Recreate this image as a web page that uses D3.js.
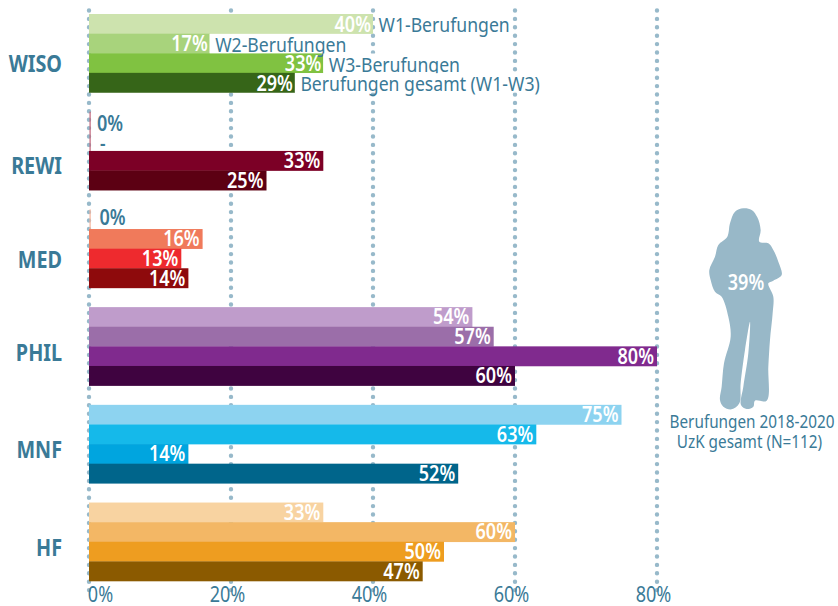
<!DOCTYPE html>
<html>
<head>
<meta charset="utf-8">
<script src="https://cdn.jsdelivr.net/npm/d3@7"></script>
<style>
  body { margin: 0; background: #fff; }
  svg { display: block; }
  text { font-family: "Noto Sans", sans-serif; }
</style>
</head>
<body>
<div id="chart"></div>
<script>
const faculties = ["WISO", "REWI", "MED", "PHIL", "MNF", "HF"];
const groups = ["W1", "W2", "W3", "gesamt"];
const wiso = [40, 17, 33, 29];
const rewi = [0, null, 33, 25];
const med = [0, 16, 13, 14];
const phil = [54, 57, 80, 60];
const mnf = [75, 63, 14, 52];
const hf = [33, 60, 50, 47];
const rows = [wiso, rewi, med, phil, mnf, hf];
const colors = [
  ["#cde3ae", "#a8d37c", "#80c241", "#366518"],
  ["#c0647a", "#c0647a", "#7c0026", "#5c0013"],
  ["#f6b49c", "#f07a5b", "#ee2a2e", "#8e0a0c"],
  ["#bf9ccb", "#9b6ea9", "#802a8e", "#3f0340"],
  ["#8dd3f0", "#15b9ea", "#00a5df", "#00658b"],
  ["#f8d3a1", "#f3b765", "#ee9d20", "#8b5a00"]
];
const legendLabels = ["W1-Berufungen", "W2-Berufungen", "W3-Berufungen", "Berufungen gesamt (W1-W3)"];
const ticks = [0, 20, 40, 60, 80];
const total = 39;
const totalLabel = ["Berufungen 2018-2020", "UzK gesamt (N=112)"];
// the faculty names do not sit on the middle of their bars in the original
const nameShift = [10, 15, 11, 6, 5, 6];

const width = 838, height = 606;
const teal = "#3a7a97";
const narrow = 0.86;

const svg = d3.select("#chart").append("svg")
  .attr("width", width)
  .attr("height", height);

const x = d3.scaleLinear().domain([0, 80]).range([89, 657]);
const y = d3.scaleBand().domain(faculties).range([14, 581]).paddingInner(0.197);
const yInner = d3.scaleBand().domain(groups).range([0, y.bandwidth()]);

// narrowed text, the original face is a condensed one
function label(sel, tx, ty, str, size, fill, anchor, weight) {
  return sel.append("text")
    .attr("transform", `translate(${tx},${ty}) scale(${narrow},1)`)
    .attr("text-anchor", anchor || "start")
    .attr("font-size", size)
    .attr("font-weight", weight || 400)
    .attr("fill", fill)
    .text(str);
}

// dotted grid
svg.append("g").selectAll("line").data(ticks).join("line")
  .attr("x1", d => x(d))
  .attr("x2", d => x(d))
  .attr("y1", 10.5)
  .attr("y2", 592)
  .attr("stroke", "#97b9ca")
  .attr("stroke-width", 4.4)
  .attr("stroke-linecap", "round")
  .attr("stroke-dasharray", "0 8.4");

// bars
faculties.forEach((f, i) => {
  const g = svg.append("g").attr("transform", `translate(0,${y(f)})`);
  rows[i].forEach((v, j) => {
    const top = yInner(groups[j]);
    const h = yInner.bandwidth();
    const base = top + h / 2 + 7.5;
    if (v === null) {
      g.append("rect").attr("x", x(0) + 0.5).attr("y", top).attr("width", 1.2).attr("height", h).attr("fill", colors[i][j]);
      label(g, x(0) + 11, base + 1, "-", 20, teal, "start", 600);
      return;
    }
    g.append("rect")
      .attr("x", v === 0 ? x(0) + 0.5 : x(0))
      .attr("y", top)
      .attr("width", v === 0 ? 1.2 : x(v) - x(0))
      .attr("height", h + 0.3)
      .attr("fill", colors[i][j]);
    if (v === 0) {
      label(g, x(0) + (i === 1 ? 8 : 10.5), base + (i === 1 ? 2 : -2), "0%", 21, teal, "start", 600);
    } else if (i > 0) {
      label(g, x(v) - 3, base, `${v}%`, 21, "#fff", "end", 600);
    }
  });
  label(svg, 62, y(f) + y.bandwidth() / 2 + 8.5 + nameShift[i], f, 23, teal, "end", 700);
});

// series names sit on the WISO rows, white behind them hides the grid
const wisoGroup = svg.append("g").attr("transform", `translate(0,${y("WISO")})`);
wiso.forEach((v, j) => {
  const top = yInner(groups[j]);
  const h = yInner.bandwidth();
  const base = top + h / 2 + 7.5;
  const back = wisoGroup.append("rect").attr("fill", "#fff");
  const t = label(wisoGroup, x(v) + 5.5, base + 1, legendLabels[j], 20.5, teal);
  if (j > 0) {
    back.attr("x", x(v)).attr("y", top + 0.3).attr("height", h - 0.3)
      .attr("width", t.node().getBBox().width * narrow + 8);
  }
  label(wisoGroup, x(v) - 2, base + 0.5, `${v}%`, 21, "#fff", "end", 600);
});

// axis labels
const axis = svg.append("g")
  .attr("transform", "translate(0,602)")
  .call(d3.axisBottom(x).tickValues(ticks).tickSize(0).tickFormat(d => `${d}%`));
axis.select(".domain").remove();
axis.selectAll("text")
  .attr("y", 0)
  .attr("dy", 0)
  .attr("font-family", "'Noto Sans', sans-serif")
  .attr("font-size", 21)
  .attr("fill", teal)
  .attr("transform", d => `translate(${d === 0 ? 11 : -4},0) scale(${narrow},1)`);

// silhouette
const figure = [
  [310,55],[335,60],[352,82],[362,120],[358,155],[385,160],[400,180],[415,215],[425,255],[400,272],[385,280],
  [400,320],[398,370],[390,450],[385,530],[380,632],[345,632],[340,650],[320,657],[303,645],[310,590],
  [325,490],[330,395],[315,480],[302,580],[298,640],[275,658],[250,650],[240,630],[245,590],[252,520],
  [272,440],[265,380],[245,320],[225,305],[212,270],[208,240],[225,200],[235,165],[262,140],[270,100],[285,65]
];
svg.append("path")
  .attr("transform", "translate(640,190) scale(0.3333)")
  .attr("d", d3.line().curve(d3.curveCatmullRomClosed.alpha(0.5))(figure))
  .attr("fill", "#98b8c8");

label(svg, 746, 290, `${total}%`, 21, "#fff", "middle", 600);
label(svg, 752, 428, totalLabel[0], 17.8, teal, "middle");
label(svg, 749.5, 448, totalLabel[1], 17.8, teal, "middle");
</script>
</body>
</html>
